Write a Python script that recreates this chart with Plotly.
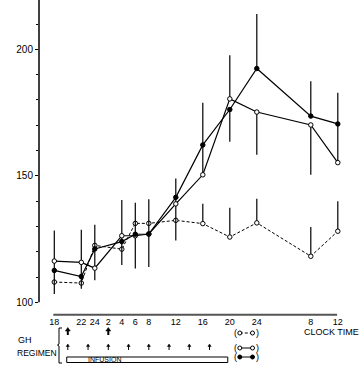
import plotly.graph_objects as go

# ---- data (hours after 18:00 clock time) ----
hours = [0, 4, 6, 10, 12, 14, 18, 22, 26, 30, 38, 42]
tick_hours = [0, 4, 6, 8, 10, 12, 14, 18, 22, 26, 30, 38, 42]
tick_text = ["18", "22", "24", "2", "4", "6", "8", "12", "16", "20", "24", "8", "12"]

# open circles, solid line
a_vals = [116.3, 115.8, 113.5, 126.3, 126.3, 127.0, 138.9, 150.4, 180.4, 175.2, 170.1, 155.2]
a_plus = [12.1, 12.9, 17.2, 14.1, 13.0, 13.7, 10.0, 11.8, 17.2, 0, 0, 15.3]
a_minus = [13.0, 10.4, 4.8, 11.6, 12.9, 13.0, 14.5, 0, 0, 16.9, 19.7, 0]

# filled circles, solid line
b_vals = [112.6, 110.2, 121.1, 124.0, 126.9, 127.0, 141.5, 162.2, 176.2, 192.4, 173.6, 170.5]
b_plus = [0, 0, 0, 0, 0, 0, 0, 16.7, 0, 21.6, 13.8, 12.3]
b_minus = [0, 0, 0, 0, 0, 0, 0, 0, 12.7, 0, 0, 0]

# open circles, dashed line
c_vals = [108.0, 107.6, 122.5, 121.0, 131.2, 131.2, 132.4, 131.1, 125.8, 131.4, 118.2, 128.1]
c_plus = [0, 0, 0, 0, 0, 0, 0, 7.9, 11.6, 9.5, 11.6, 11.8]
c_minus = [0] * 12

bolus_hours = [2, 8]
pulse_hours = [2, 5, 8, 11, 14, 17, 20, 23]
infusion_span = [1.84, 25.7]

y_ticks = [100, 150, 200]

# ---- layout geometry ----
W, H = 362, 366
L, R, T, B = 39, 0, 0, 51
PW, PH = W - L - R, H - T - B
PX_PER_H = 6.75
X0_PX = 54.3
x_range = [(L - X0_PX) / PX_PER_H, (W - R - X0_PX) / PX_PER_H]
PX_PER_UNIT = 2.53
y_range = [100 - (315 - 302.3) / PX_PER_UNIT, 100 + 302.3 / PX_PER_UNIT]


def pxx(px):
    return (px - L) / PW


def pyy(py):
    return (T + PH - py) / PH


def h2px(h):
    return X0_PX + PX_PER_H * h


FONT = "Liberation Sans, Arial, sans-serif"
fig = go.Figure()


def err(plus, minus):
    return dict(type="data", symmetric=False, array=plus, arrayminus=minus,
                width=0, thickness=1.2, color="black")


MS = 4.5
fig.add_trace(go.Scatter(
    x=hours, y=c_vals, mode="lines+markers",
    line=dict(color="black", width=1, dash="3px,2px"),
    marker=dict(symbol="circle", size=MS, color="white", line=dict(color="black", width=1)),
    error_y=err(c_plus, c_minus), showlegend=False))
fig.add_trace(go.Scatter(
    x=hours, y=a_vals, mode="lines+markers",
    line=dict(color="black", width=1.2),
    marker=dict(symbol="circle", size=MS, color="white", line=dict(color="black", width=1)),
    error_y=err(a_plus, a_minus), showlegend=False))
fig.add_trace(go.Scatter(
    x=hours, y=b_vals, mode="lines+markers",
    line=dict(color="black", width=1.2),
    marker=dict(symbol="circle", size=MS, color="black", line=dict(color="black", width=1)),
    error_y=err(b_plus, b_minus), showlegend=False))

shapes = []
# y axis line
shapes.append(dict(type="line", xref="paper", yref="y", x0=0, x1=0, y0=100, y1=y_range[1],
                   line=dict(color="black", width=1.5)))
# x axis line
shapes.append(dict(type="line", xref="x", yref="paper", x0=-0.15, x1=41.9, y0=pyy(314.7), y1=pyy(314.7),
                   line=dict(color="#555", width=2)))
# infusion box
shapes.append(dict(type="rect", xref="x", yref="paper", x0=infusion_span[0], x1=infusion_span[1],
                   y0=pyy(362.5), y1=pyy(357), line=dict(color="black", width=1), fillcolor="white"))
# bracket
bx0, bx1 = pxx(59), pxx(62)
shapes.append(dict(type="path", xref="paper", yref="paper",
                   path=f"M {bx1},{pyy(328)} L {bx0},{pyy(328)} L {bx0},{pyy(344)} L {pxx(57.5)},{pyy(345)} "
                        f"L {bx0},{pyy(346)} L {bx0},{pyy(363)} L {bx1},{pyy(363)}",
                   line=dict(color="black", width=1)))


def arrow(h, tip_py, head_len, head_half, shaft_len, shaft_w):
    cx = h2px(h)
    base = tip_py + head_len
    shapes.append(dict(type="line", xref="paper", yref="paper", x0=pxx(cx), x1=pxx(cx),
                       y0=pyy(base - 0.5), y1=pyy(base + shaft_len),
                       line=dict(color="black", width=shaft_w)))
    shapes.append(dict(type="path", xref="paper", yref="paper",
                       path=f"M {pxx(cx)},{pyy(tip_py)} L {pxx(cx - head_half)},{pyy(base)} "
                            f"L {pxx(cx + head_half)},{pyy(base)} Z",
                       fillcolor="black", line=dict(color="black", width=0.5)))


for h in bolus_hours:
    arrow(h, 327.5, 3.5, 2.5, 4, 2)
for h in pulse_hours:
    arrow(h, 344, 2.5, 1.6, 3.5, 1)


# legend key symbols
def key(py, filled, dashed):
    cx0, cx1 = 239.8, 252.5
    shapes.append(dict(type="line", xref="paper", yref="paper", x0=pxx(cx0), x1=pxx(cx1),
                       y0=pyy(py), y1=pyy(py),
                       line=dict(color="black", width=1, dash="3px,2px" if dashed else "solid")))
    for cx in (cx0, cx1):
        shapes.append(dict(type="circle", xref="paper", yref="paper",
                           x0=pxx(cx - 2), x1=pxx(cx + 2), y0=pyy(py + 2), y1=pyy(py - 2),
                           line=dict(color="black", width=1), fillcolor="black" if filled else "white"))


key(333, False, True)
key(348, False, False)
key(357, True, False)

annotations = []


def text(s, px, py, size=9, anchor="center"):
    annotations.append(dict(text=s, x=pxx(px), y=pyy(py), xref="paper", yref="paper",
                            showarrow=False, xanchor=anchor, yanchor="middle",
                            font=dict(family=FONT, size=size, color="black")))


for py in (333, 348, 357):
    text("(", 235.5, py - 0.5)
    text(")", 257, py - 0.5)

text("INFUSION", 104, 359.8, size=7)
text("GH", 16, 340, anchor="left")
text("REGIMEN", 15, 353, size=8.5, anchor="left")
text("CLOCK TIME", 302, 332, anchor="left")

fig.update_layout(
    width=W, height=H, margin=dict(l=L, r=R, t=T, b=B, pad=0),
    paper_bgcolor="white", plot_bgcolor="white",
    font=dict(family=FONT, size=9, color="black"),
    shapes=shapes, annotations=annotations, showlegend=False,
    xaxis=dict(range=x_range, tickvals=tick_hours, ticktext=tick_text, showgrid=False,
               zeroline=False, showline=False, ticks="", tickfont=dict(family=FONT, size=9),
               fixedrange=True),
    yaxis=dict(range=y_range, tickvals=y_ticks, showgrid=False, zeroline=False, showline=False,
               ticks="outside", ticklen=3, tickwidth=1, tickcolor="black",
               minor=dict(tickvals=[110, 120, 130, 140, 160, 170, 180, 190, 210], ticks="outside",
                          ticklen=2, tickcolor="black", tickwidth=1),
               tickfont=dict(family=FONT, size=10), fixedrange=True),
)

fig.write_html("out.html", config={"displayModeBar": False})
